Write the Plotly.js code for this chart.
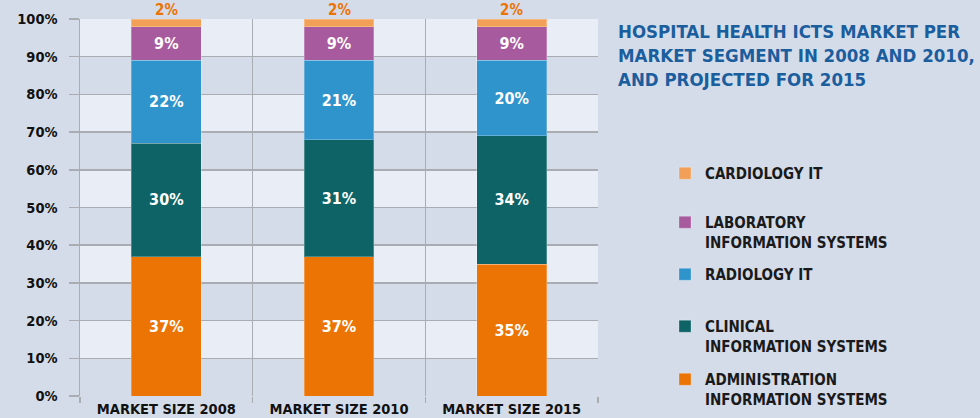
<!DOCTYPE html>
<html><head><meta charset="utf-8">
<script src="https://cdn.plot.ly/plotly-3.0.1.min.js"></script>
<style>html,body{margin:0;padding:0;background:#d5dce9;}#chart{width:980px;height:418px;}</style>
</head><body><div id="chart"></div>
<script>
const categories = ["MARKET SIZE 2008", "MARKET SIZE 2010", "MARKET SIZE 2015"];
const administration = [37, 37, 35];
const clinical = [30, 31, 34];
const radiology = [22, 21, 20];
const laboratory = [9, 9, 9];
const cardiology = [2, 2, 2];
const seriesNames = ["ADMINISTRATION<br>INFORMATION SYSTEMS", "CLINICAL<br>INFORMATION SYSTEMS", "RADIOLOGY IT", "LABORATORY<br>INFORMATION SYSTEMS", "CARDIOLOGY IT"];
const titleText = "HOSPITAL HEALTH ICTS MARKET PER<br>MARKET SEGMENT IN 2008 AND 2010,<br>AND PROJECTED FOR 2015";

const FONT = "'Liberation Sans Narrow', 'DejaVu Sans Condensed', 'Arial Narrow', sans-serif";
const colors = ["#ec7405", "#0d6366", "#2f93cc", "#a85a9e", "#f2a057"];
const values = [administration, clinical, radiology, laboratory, cardiology];
const legendIds = ["legend5", "legend4", "legend3", "legend2", "legend"];
// plot area pixels
const L = 80, R = 598, T = 19, B = 396;
const py = p => (B - p) / (B - T);
const px = p => (p - L) / (R - L);
const legendTops = [363, 310, 258, 206, 157];

const traces = values.map((v, i) => ({
  type: "bar",
  x: categories,
  y: v,
  name: seriesNames[i],
  legend: legendIds[i],
  marker: {color: colors[i], line: {color: "rgba(255,255,255,0.25)", width: 1}},
  width: 0.405,
  texttemplate: i === 4 ? "" : "%{y}",
  textposition: i === 4 ? "none" : "inside",
  insidetextanchor: "middle",
  textfont: {family: FONT, size: 16, weight: "bold", color: "#ffffff"},
  cliponaxis: false,
  hoverinfo: "skip"
}));

// top labels for the smallest (cardiology) segment, above each stack
const totals = categories.map((c, j) => values.reduce((s, v) => s + v[j], 0));
const annotations = categories.map((c, j) => ({
  x: c, y: totals[j], xref: "x", yref: "y", yanchor: "bottom", yshift: -2,
  text: cardiology[j] + "%", showarrow: false,
  font: {family: FONT, size: 15, weight: "bold", color: "#ec7405"}
}));

const shapes = [];
for (let k = 1; k < 10; k += 2) {
  shapes.push({type: "rect", xref: "paper", yref: "y", x0: 0, x1: 1, y0: k * 10, y1: (k + 1) * 10,
    fillcolor: "#e9edf6", line: {width: 0}, layer: "below"});
}

const layout = {
  width: 980, height: 418,
  paper_bgcolor: "#d5dce9", plot_bgcolor: "#d5dce9",
  margin: {l: L, r: 980 - R, t: T, b: 418 - B, autoexpand: false},
  barmode: "stack",
  showlegend: true,
  font: {family: FONT, color: "#111111"},
  title: {text: titleText, xref: "container", yref: "container", x: 618 / 980, xanchor: "left",
    y: 1 - 38 / 418, yanchor: "top",
    font: {family: FONT, size: 18.5, weight: "bold", color: "#1b5e9e"}},
  xaxis: {tickson: "boundaries", showgrid: true, gridcolor: "#a9acb1", gridwidth: 1.5,
    ticks: "outside", ticklen: 6, tickcolor: "#a9acb1", tickwidth: 1.5, automargin: false,
    ticklabelstandoff: 2,
    tickfont: {family: FONT, size: 14.5, weight: "bold", color: "#111111"},
    showline: false, zeroline: false, fixedrange: true},
  yaxis: {range: [0, 100], dtick: 10, ticksuffix: "%", showgrid: true, gridcolor: "#a9acb1", gridwidth: 1.5,
    ticks: "outside", ticklen: 10, tickcolor: "#a9acb1", tickwidth: 1.5, zeroline: false,
    ticklabelstandoff: 8, automargin: false,
    showline: true, linecolor: "#a9acb1", linewidth: 1.5,
    tickfont: {family: FONT, size: 14.5, weight: "bold", color: "#111111"}, fixedrange: true},
  shapes: shapes,
  annotations: annotations
};
legendIds.forEach((id, i) => {
  layout[id] = {x: px(665), xanchor: "left", y: py(legendTops[i]), yanchor: "top",
    bgcolor: "rgba(0,0,0,0)", borderwidth: 0, valign: "top",
    font: {family: FONT, size: 15, weight: "bold", color: "#1a1a1a"}};
});

Plotly.newPlot("chart", traces, layout, {displayModeBar: false, staticPlot: true});
</script></body></html>
